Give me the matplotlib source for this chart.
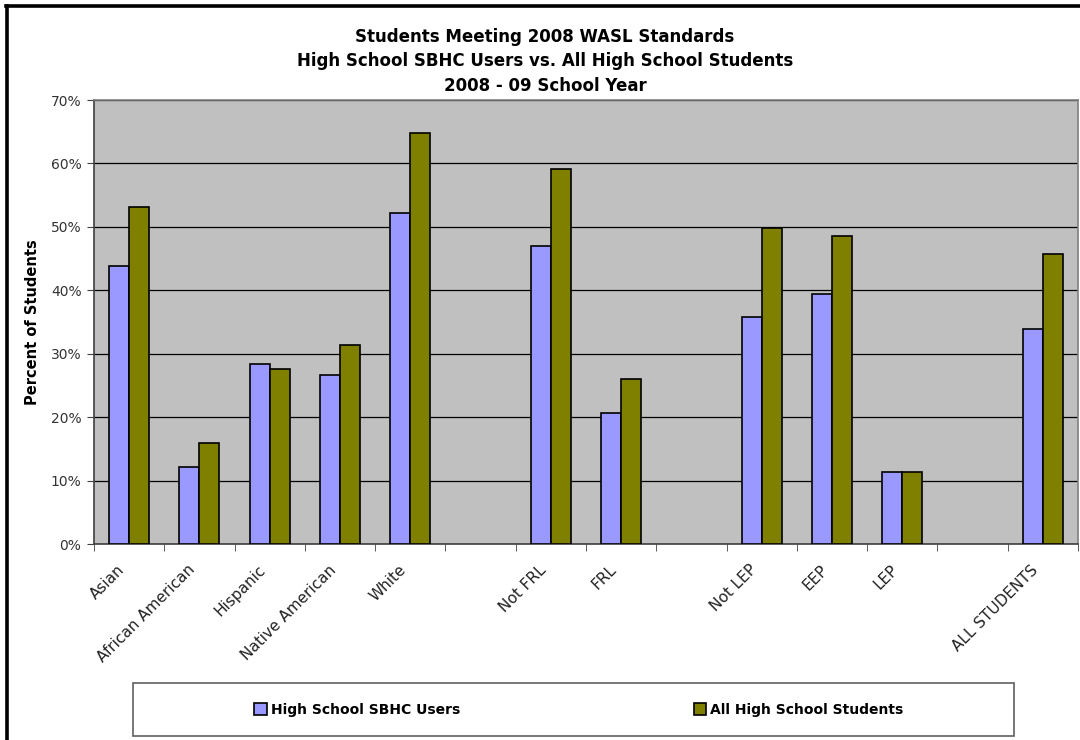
import numpy as np
import matplotlib.pyplot as plt
from matplotlib.patches import Rectangle
from matplotlib.lines import Line2D
from matplotlib.transforms import ScaledTranslation

# Categorias (strings vazias = espaço entre grupos)
vtCategorias = ['Asian', 'African American', 'Hispanic', 'Native American', 'White', '',
                'Not FRL', 'FRL', '', 'Not LEP', 'EEP', 'LEP', '', 'ALL STUDENTS']
# Percentual de alunos que atingiram o padrão (None = sem barra)
vtSbhc = [43.9, 12.1, 28.4, 26.6, 52.2, None, 47.0, 20.7, None, 35.8, 39.4, 11.4, None, 33.9]
vtTodos = [53.1, 16.0, 27.6, 31.4, 64.8, None, 59.2, 26.0, None, 49.8, 48.6, 11.3, None, 45.7]
vtSeries = ['High School SBHC Users', 'All High School Students']
vtTitulo = ['Students Meeting 2008 WASL Standards',
            'High School SBHC Users vs. All High School Students',
            '2008 - 09 School Year']
vtYTicks = [0, 10, 20, 30, 40, 50, 60, 70]

cAzul = '#9999FF'
cOliva = '#808000'

plt.rcParams['font.family'] = ['DejaVu Sans']

fig = plt.figure(figsize=(10.8, 7.4), dpi=100)
ax = fig.add_axes([94 / 1080, 1 - 544 / 740, (1078 - 94) / 1080, 444 / 740])
ax.set_facecolor('#C0C0C0')

vtX = np.arange(len(vtCategorias))
dLarg = 0.285
vtIdx = [i for i, v in enumerate(vtSbhc) if v is not None]
ax.bar(vtX[vtIdx] - dLarg / 2, [vtSbhc[i] for i in vtIdx], dLarg, color=cAzul,
       edgecolor='black', linewidth=1.2, zorder=3)
ax.bar(vtX[vtIdx] + dLarg / 2, [vtTodos[i] for i in vtIdx], dLarg, color=cOliva,
       edgecolor='black', linewidth=1.2, zorder=3)

ax.set_xlim(-0.5, len(vtCategorias) - 0.5)
ax.set_ylim(0, 70)
ax.set_yticks(vtYTicks)
ax.set_yticklabels([f'{v}%' for v in vtYTicks], fontsize=10, color='#333333')
ax.yaxis.grid(True, color='black', linewidth=0.9, zorder=1)
ax.set_axisbelow(True)

# Rótulos no centro de cada categoria, traços entre categorias
ax.set_xticks(vtX)
ax.set_xticklabels(vtCategorias, rotation=45, ha='right', va='top',
                   rotation_mode='anchor', fontsize=11, color='#222222')
ax.tick_params(axis='x', which='major', length=0, pad=13)
desloc = ScaledTranslation(-12 / 100, 0, fig.dpi_scale_trans)
for lbl in ax.get_xticklabels():
    lbl.set_transform(lbl.get_transform() + desloc)
ax.set_xticks(np.arange(-0.5, len(vtCategorias), 1), minor=True)
ax.tick_params(axis='x', which='minor', length=5, color='#404040', direction='out')
ax.tick_params(axis='y', length=5, color='#404040', direction='out', pad=4)

for s in ['top', 'right']:
    ax.spines[s].set_color('#808080')
    ax.spines[s].set_linewidth(1.2)
ax.spines['left'].set_color('#404040')
ax.spines['left'].set_linewidth(1.2)
ax.spines['bottom'].set_color('#404040')
ax.spines['bottom'].set_linewidth(1.2)

ax.set_ylabel('Percent of Students', fontsize=10.5, fontweight='bold', labelpad=8)

for i, sLinha in enumerate(vtTitulo):
    fig.text(545 / 1080, 1 - (37 + 24.5 * i) / 740, sLinha, ha='center', va='center',
             fontsize=12, fontweight='bold')

# Moldura externa (esquerda e topo)
fig.add_artist(Line2D([6.5 / 1080, 6.5 / 1080], [0, 1 - 5.5 / 740], color='black',
                      linewidth=2.6, transform=fig.transFigure))
fig.add_artist(Line2D([5.5 / 1080, 1], [1 - 5.5 / 740, 1 - 5.5 / 740], color='black',
                      linewidth=2.6, transform=fig.transFigure))

# Caixa da legenda
fig.add_artist(Rectangle((133 / 1080, 1 - 736 / 740), (1014 - 133) / 1080, 53 / 740,
                         transform=fig.transFigure, facecolor='white', edgecolor='#606060',
                         linewidth=1.2))
vtHandles = [Rectangle((0, 0), 1, 1, facecolor=cAzul, edgecolor='black', linewidth=1.2),
             Rectangle((0, 0), 1, 1, facecolor=cOliva, edgecolor='black', linewidth=1.2)]
fig.legend(vtHandles, vtSeries, loc='center', bbox_to_anchor=(579 / 1080, 1 - 710 / 740),
           ncol=2, frameon=False, handlelength=0.9, handleheight=0.9, handletextpad=0.3,
           columnspacing=16.8, prop={'weight': 'bold', 'size': 10})

fig.savefig('out.png', dpi=100)
